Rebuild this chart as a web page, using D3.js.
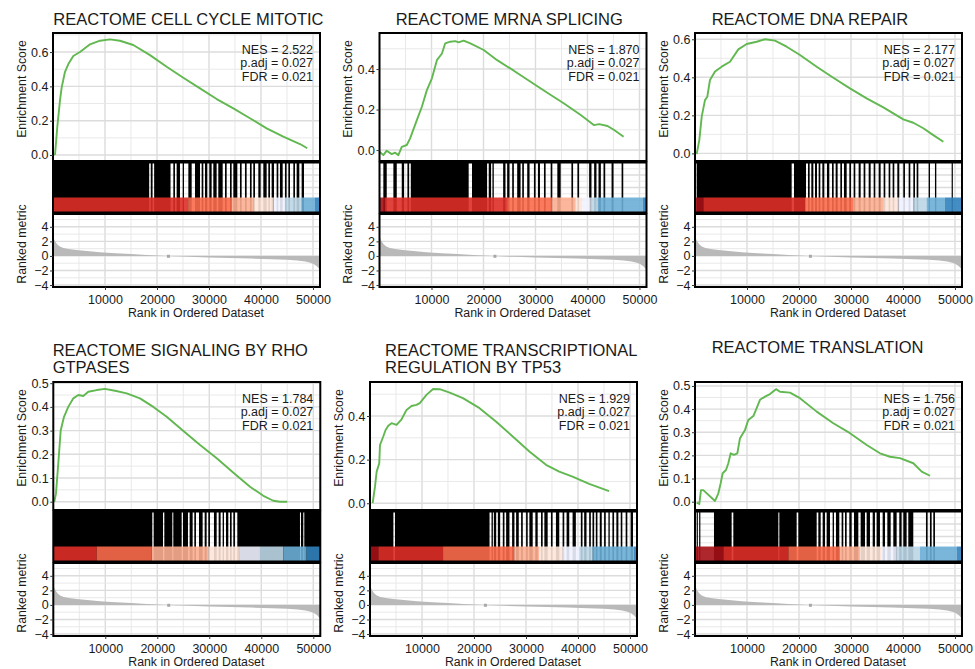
<!DOCTYPE html>
<html lang="en">
<head>
<meta charset="utf-8">
<title>GSEA plots</title>
<script src="https://cdn.jsdelivr.net/npm/d3@7"></script>
<style>
  body { margin: 0; background: #fff; }
  text { font-family: "Liberation Sans", Arial, sans-serif; }
</style>
</head>
<body>
<svg id="chart" width="975" height="669"></svg>
<script>
// ---- data ----
const N = 51350;                       // genes in the ranked list
const xTicks = [10000, 20000, 30000, 40000, 50000];

const titles = [
  ["REACTOME CELL CYCLE MITOTIC"],
  ["REACTOME MRNA SPLICING"],
  ["REACTOME DNA REPAIR"],
  ["REACTOME SIGNALING BY RHO", "GTPASES"],
  ["REACTOME TRANSCRIPTIONAL", "REGULATION BY TP53"],
  ["REACTOME TRANSLATION"]
];
const nes  = ["2.522", "1.870", "2.177", "1.784", "1.929", "1.756"];
const padj = ["0.027", "0.027", "0.027", "0.027", "0.027", "0.027"];
const fdr  = ["0.021", "0.021", "0.021", "0.021", "0.021", "0.021"];

const esDomains = [[-0.035, 0.711], [-0.054, 0.578], [-0.04, 0.633],
                   [-0.035, 0.505], [-0.031, 0.556], [-0.036, 0.517]];
const esTicks = [[0, 0.2, 0.4, 0.6], [0, 0.2, 0.4], [0, 0.2, 0.4, 0.6],
                 [0, 0.1, 0.2, 0.3, 0.4, 0.5], [0, 0.2, 0.4], [0, 0.1, 0.2, 0.3, 0.4, 0.5]];

// running enrichment score, [rank, ES]
const es1 = [[1,0],[400,0.005],[830,0.165],[1350,0.32],[1670,0.394],[2310,0.485],[2950,0.53],[3900,0.577],[5190,0.60],[7120,0.645],[9040,0.666],[10960,0.674],[12880,0.666],[15440,0.641],[18650,0.582],[21860,0.514],[25060,0.45],[28270,0.388],[31480,0.326],[34680,0.272],[37880,0.214],[41090,0.155],[44290,0.107],[47500,0.064],[48900,0.039]];
const es2 = [[1,-0.008],[740,-0.025],[1390,-0.003],[2350,-0.02],[3000,-0.013],[3630,-0.025],[4280,0.016],[5250,0.025],[5890,0.058],[7180,0.148],[8150,0.214],[9110,0.296],[10080,0.354],[11040,0.444],[12010,0.477],[12640,0.527],[13610,0.535],[14580,0.538],[15210,0.532],[16180,0.54],[17470,0.527],[20040,0.494],[22630,0.444],[25830,0.392],[29050,0.337],[32270,0.283],[35490,0.23],[38700,0.173],[41270,0.123],[42240,0.128],[43860,0.119],[45130,0.099],[46950,0.066]];
const es3 = [[320,-0.004],[830,0.07],[1290,0.193],[1920,0.28],[2370,0.298],[2880,0.386],[3850,0.43],[5130,0.456],[6730,0.482],[8330,0.547],[9940,0.575],[11860,0.587],[13460,0.6],[15380,0.593],[17630,0.561],[20190,0.517],[23400,0.456],[26600,0.398],[29800,0.342],[33010,0.289],[36220,0.242],[40060,0.179],[41990,0.161],[43910,0.132],[45830,0.096],[47760,0.061]];
const es4 = [[190,0],[520,0.035],[960,0.162],[1420,0.30],[2060,0.358],[2880,0.40],[3850,0.436],[4810,0.45],[5770,0.446],[6730,0.464],[8350,0.471],[9940,0.476],[11870,0.468],[14120,0.457],[16670,0.436],[19240,0.40],[21810,0.358],[25020,0.298],[28230,0.239],[31430,0.183],[34640,0.122],[37830,0.063],[40400,0.025],[42310,0.004],[43600,0.0],[45000,0.0]];
const es5 = [[510,0],[960,0.076],[1280,0.145],[1780,0.183],[1920,0.267],[2550,0.306],[3000,0.336],[3510,0.355],[4150,0.367],[5110,0.359],[6070,0.385],[7030,0.428],[7980,0.446],[8940,0.451],[9580,0.459],[10860,0.497],[12130,0.524],[13410,0.523],[15330,0.507],[17870,0.482],[21070,0.436],[24270,0.374],[27450,0.306],[30650,0.237],[33850,0.176],[36400,0.145],[38950,0.122],[42150,0.089],[45980,0.056]];
const es6 = [[320,-0.004],[830,-0.01],[1150,0.05],[1600,0.05],[3850,0.003],[4490,0.036],[4940,0.08],[5320,0.123],[5960,0.137],[6410,0.166],[6860,0.209],[7500,0.202],[8140,0.209],[8650,0.274],[9620,0.31],[10250,0.353],[11220,0.37],[11860,0.404],[12500,0.44],[13460,0.454],[14420,0.465],[15580,0.486],[16350,0.475],[18270,0.471],[20190,0.447],[23400,0.389],[26600,0.339],[29810,0.296],[33020,0.245],[35580,0.209],[37500,0.194],[39420,0.188],[41990,0.166],[43600,0.13],[45190,0.112]];

// gene set members, as [fromRank, toRank] runs
const hits1 = [[0,18500],[18800,19150],[19450,22600],[23140,23460],[23780,24420],[24940,25190],[26030,26670],[27310,28270],[28590,28910],[29230,29680],[30060,30510],[30830,31470],[31790,32630],[33080,33400],[34040,34360],[34680,35450],[35960,36280],[36920,37240],[37880,38200],[38520,38850],[39490,39930],[40450,41090],[41410,41730],[42050,42500],[43010,43330],[43650,44170],[44610,44930],[45260,45580],[46220,46540],[46860,47370],[47820,48270]];
const hits2 = [[740,1390],[2670,3320],[4280,4730],[5370,5700],[6020,17150],[17790,20690],[21010,21460],[21720,21980],[23780,24230],[24550,25000],[25520,25840],[26480,27130],[27450,27770],[28410,28860],[29700,30020],[30470,30860],[31630,31950],[32920,33240],[34200,34850],[36910,37230],[38060,38390],[40320,40770],[41280,41730],[42120,42570],[43080,43410],[44630,45010],[46560,46880]];
const hits3 = [[320,18590],[19040,21350],[21730,22050],[22370,22760],[23080,23460],[23780,24100],[24490,24870],[25380,25830],[26350,26670],[27050,27430],[27950,28270],[28650,29170],[29680,30000],[30510,30830],[31470,31860],[32430,32760],[33400,33780],[34360,34680],[35320,35700],[36280,36600],[37240,37560],[38010,38330],[38910,39290],[40060,40380],[41090,41410],[41990,42310],[42630,42950],[44930,45190],[46150,46410],[49360,49550]];
const hits4 = [[0,19040],[19300,21100],[21350,22890],[23080,24690],[24940,25900],[26220,26800],[27120,27440],[28020,28720],[29110,29490],[29810,30130],[30900,31420],[31800,32180],[32570,32830],[33210,33660],[33980,34300],[34620,34940],[35390,47440],[47630,48080],[48270,51350]];
const hits5 = [[0,4500],[4800,22990],[23370,23630],[23820,24270],[24590,25030],[25540,25860],[26180,26820],[27330,27780],[28100,28610],[29060,29380],[30020,30330],[30650,31290],[31800,32250],[32890,33210],[33530,34170],[34800,35120],[35760,36400],[37040,37360],[37810,38320],[38960,39590],[40550,40870],[41190,41640],[42150,42470],[42790,43110],[43430,43740],[44190,44570],[45020,45340],[45850,46110],[46620,46940],[47380,47770],[48220,48530],[49170,49490],[50130,50580]];
const hits6 = [[320,500],[800,960],[3650,7050],[7370,16030],[16220,19550],[19870,23400],[23720,24170],[24550,25000],[25320,25960],[26470,26730],[27110,27750],[28200,28520],[28850,29170],[29680,30130],[30580,31410],[31860,32690],[33010,33650],[34170,34610],[34930,35570],[36090,36540],[36990,37630],[38140,38780],[39290,39740],[40060,40700],[41020,41980],[44420,44740],[45190,45510],[45830,46150]];

// colour strip: [startRank, colour bin]
const stripColors = ["#A50F15", "#DE2D26", "#FB6A4A", "#FCAE91", "#FEE5D9",
                     "#EFF3FF", "#BDD7E7", "#6BAED6", "#3182BD", "#08519C"];
const strip1 = [[0,1],[26030,2],[34360,3],[38520,4],[42370,5],[44610,6],[47820,7],[50380,8]];
const strip2 = [[0,0],[1060,1],[24550,2],[33240,3],[37740,4],[39000,5],[40640,6],[41930,7],[50610,8]];
const strip3 = [[0,0],[1600,1],[21150,2],[30450,3],[36220,4],[39100,5],[41990,6],[44550,7],[48070,8]];
const strip4 = [[0,1],[8340,2],[18920,3],[29810,4],[35900,5],[39750,6],[44240,7],[48720,8]];
const strip5 = [[0,0],[1600,1],[14050,2],[27780,3],[32570,4],[37040,5],[40230,6],[42790,7],[50770,8]];
const strip6 = [[0,0],[5450,1],[17950,2],[27880,3],[31730,4],[35900,5],[38780,6],[43270,7],[50320,8]];

// ranked list metric (same list in all six plots)
const metricRank  = [1, 150, 400, 800, 1300, 2000, 3000, 4500, 6500, 9000, 12000, 15000, 18000, 20000, 21500, 23000, 26000, 30000, 34000, 38000, 42000, 45000, 47000, 48500, 49500, 50200, 50800, 51200, 51350];
const metricValue = [2.9, 2.4, 2.0, 1.6, 1.3, 1.1, 0.95, 0.8, 0.66, 0.5, 0.38, 0.27, 0.14, 0.06, 0.0, -0.06, -0.13, -0.2, -0.28, -0.36, -0.44, -0.54, -0.64, -0.78, -0.95, -1.15, -1.45, -1.8, -2.0];
const metricBlip = [22200, -0.05];
const metricDomain = [-4.27, 5.76];
const metricTicks = [-4, -2, 0, 2, 4];

// ---- layout ----
const W = 267, H_ES = 128, H_HIT = 50, H_MET = 73;
const layout = [
  {left: 53,    top: 33,  tx: 53.3,  ty: [25]},
  {left: 379.5, top: 33,  tx: 395.7, ty: [25]},
  {left: 695,   top: 33,  tx: 711.7, ty: [25]},
  {left: 53.3,  top: 382, tx: 52.7,  ty: [356, 373]},
  {left: 370,   top: 382, tx: 385,   ty: [356, 373]},
  {left: 695,   top: 382, tx: 711.7, ty: [353]}
];

const panels = [
  {es: es1, hits: hits1, strip: strip1},
  {es: es2, hits: hits2, strip: strip2},
  {es: es3, hits: hits3, strip: strip3},
  {es: es4, hits: hits4, strip: strip4},
  {es: es5, hits: hits5, strip: strip5},
  {es: es6, hits: hits6, strip: strip6}
];

const svg = d3.select("#chart");
const metric = metricRank.map((r, i) => [r, metricValue[i]]);

function gridV(g, x, y0, y1) {
  d3.range(5000, N, 10000).forEach(v => g.append("line")
    .attr("x1", x(v)).attr("x2", x(v)).attr("y1", y0).attr("y2", y1)
    .attr("stroke", "#e6e6e6").attr("stroke-width", 0.9));
  xTicks.forEach(v => g.append("line")
    .attr("x1", x(v)).attr("x2", x(v)).attr("y1", y0).attr("y2", y1)
    .attr("stroke", "#dcdcdc").attr("stroke-width", 1.4));
}
function gridH(g, y, vals, major, x0, x1) {
  vals.forEach(v => g.append("line")
    .attr("x1", x0).attr("x2", x1).attr("y1", y(v)).attr("y2", y(v))
    .attr("stroke", major ? "#dcdcdc" : "#e6e6e6").attr("stroke-width", major ? 1.4 : 0.9));
}
function frame(g, x0, y0, x1, y1) {
  g.append("rect").attr("x", x0).attr("y", y0).attr("width", x1 - x0).attr("height", y1 - y0)
    .attr("fill", "none").attr("stroke", "#000").attr("stroke-width", 2);
}
function styleAxis(a, size) {
  a.select(".domain").remove();
  a.selectAll(".tick line").attr("stroke", "#333");
  a.selectAll("text").attr("fill", "#1a1a1a").style("font-size", size + "px");
}

panels.forEach((p, i) => {
  const L = layout[i];
  const x0 = L.left, x1 = L.left + W;
  const esTop = L.top, esBot = L.top + H_ES;
  const hitTop = esBot + 1.5, hitBot = hitTop + H_HIT;
  const metTop = hitBot + 1.5, metBot = metTop + H_MET;

  const x = d3.scaleLinear().domain([0, N]).range([x0, x1]);
  const yEs = d3.scaleLinear().domain(esDomains[i]).range([esBot, esTop]);
  const yHit = d3.scaleLinear().domain([0, 1]).range([hitBot, hitTop]);
  const yMet = d3.scaleLinear().domain(metricDomain).range([metBot, metTop]);

  const g = svg.append("g");

  // clip paths for the three stacked panels
  const defs = g.append("defs");
  [["es", esTop, esBot], ["hit", hitTop, hitBot], ["met", metTop, metBot]].forEach(([k, a, b]) => {
    defs.append("clipPath").attr("id", `c${k}${i}`).append("rect")
      .attr("x", x0).attr("y", a).attr("width", W).attr("height", b - a);
  });

  // title
  titles[i].forEach((t, j) => g.append("text")
    .attr("x", L.tx).attr("y", L.ty[j]).attr("fill", "#1a1a1a")
    .style("font-size", "16.5px").text(t));

  // --- enrichment score panel ---
  const ge = g.append("g").attr("clip-path", `url(#ces${i})`);
  gridV(ge, x, esTop, esBot);
  const tk = esTicks[i], step = tk[1] - tk[0];
  const minor = d3.range(tk[0] - step / 2, esDomains[i][1], step).filter(v => v > esDomains[i][0]);
  gridH(ge, yEs, minor, false, x0, x1);
  gridH(ge, yEs, tk, true, x0, x1);
  ge.append("path").datum(p.es)
    .attr("d", d3.line().x(d => x(d[0])).y(d => yEs(d[1])))
    .attr("fill", "none").attr("stroke", "#62b850").attr("stroke-width", 1.9)
    .attr("stroke-linejoin", "round");
  frame(g, x0, esTop, x1, esBot);
  const ay = g.append("g").attr("transform", `translate(${x0},0)`)
    .call(d3.axisLeft(yEs).tickValues(tk).tickSize(3).tickPadding(1.5).tickFormat(d3.format(".1f")));
  styleAxis(ay, 12.5);

  // NES / p.adj / FDR
  [["NES = " + nes[i], 20.5], ["p.adj = " + padj[i], 34], ["FDR = " + fdr[i], 48]].forEach(([t, dy]) =>
    g.append("text").attr("x", x1 - 7).attr("y", esTop + dy).attr("text-anchor", "end")
      .attr("fill", "#1a1a1a").style("font-size", "12.5px").text(t));

  g.append("text").attr("transform", `translate(${x0 - 27.5},${esTop + 56}) rotate(-90)`)
    .attr("text-anchor", "middle").attr("fill", "#1a1a1a").style("font-size", "12.3px")
    .text("Enrichment Score");

  // --- hits panel ---
  const gh = g.append("g").attr("clip-path", `url(#chit${i})`);
  gridV(gh, x, hitTop, hitBot);
  gridH(gh, yHit, [0.125, 0.375, 0.625, 0.875], false, x0, x1);
  gridH(gh, yHit, [0.25, 0.5, 0.75], true, x0, x1);
  gh.selectAll("rect.hit").data(p.hits).join("rect").attr("class", "hit")
    .attr("x", d => x(d[0])).attr("width", d => Math.max(x(d[1]) - x(d[0]), 1.2))
    .attr("y", yHit(1)).attr("height", yHit(0) - yHit(1)).attr("fill", "#000");
  gh.selectAll("rect.bin").data(p.strip).join("rect").attr("class", "bin")
    .attr("x", d => x(d[0]))
    .attr("width", (d, k) => x(k + 1 < p.strip.length ? p.strip[k + 1][0] : N) - x(d[0]))
    .attr("y", yHit(0.3)).attr("height", yHit(0) - yHit(0.3))
    .attr("fill", d => stripColors[d[1]]).attr("fill-opacity", 0.9);
  frame(g, x0, hitTop, x1, hitBot);

  // --- ranked metric panel ---
  const gm = g.append("g").attr("clip-path", `url(#cmet${i})`);
  gridV(gm, x, metTop, metBot);
  gridH(gm, yMet, [-3, -1, 1, 3, 5], false, x0, x1);
  gridH(gm, yMet, metricTicks, true, x0, x1);
  gm.append("path").datum(metric)
    .attr("d", d3.area().x(d => x(d[0])).y0(yMet(0)).y1(d => yMet(d[1])))
    .attr("fill", "#b9b9b9");
  gm.append("rect").attr("x", x(metricBlip[0]) - 1.5).attr("y", yMet(metricBlip[1]) - 1.5)
    .attr("width", 3).attr("height", 3).attr("fill", "#a8a8a8");
  frame(g, x0, metTop, x1, metBot);

  const am = g.append("g").attr("transform", `translate(${x0},0)`)
    .call(d3.axisLeft(yMet).tickValues(metricTicks).tickSize(3).tickPadding(1.5).tickFormat(d3.format("d")));
  styleAxis(am, 12.5);
  const ax = g.append("g").attr("transform", `translate(0,${metBot})`)
    .call(d3.axisBottom(x).tickValues(xTicks).tickSize(3).tickPadding(5).tickFormat(d3.format("d")));
  styleAxis(ax, 12.5);

  g.append("text").attr("transform", `translate(${x0 - 27.5},${metTop + 30}) rotate(-90)`)
    .attr("text-anchor", "middle").attr("fill", "#1a1a1a").style("font-size", "12.3px")
    .text("Ranked metric");
  g.append("text").attr("x", (x0 + x1) / 2 + 9.5).attr("y", metBot + 30)
    .attr("text-anchor", "middle").attr("fill", "#1a1a1a").style("font-size", "12.3px")
    .text("Rank in Ordered Dataset");
});
</script>
</body>
</html>
